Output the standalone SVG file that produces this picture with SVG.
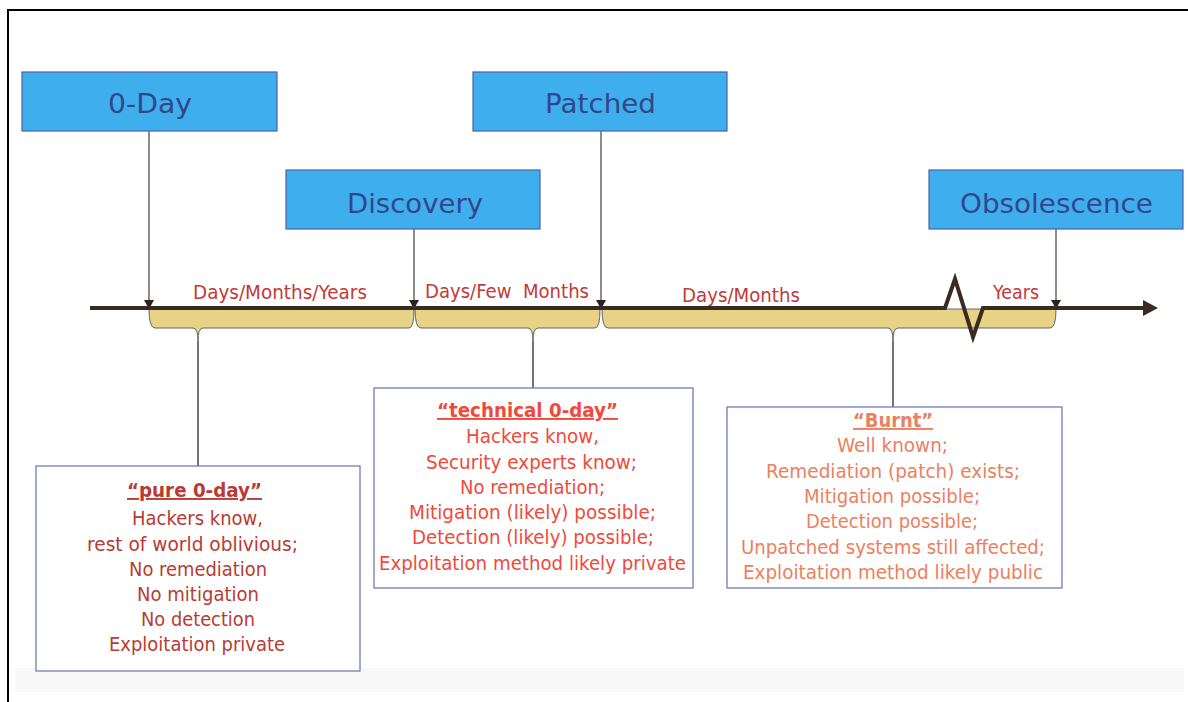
<svg xmlns="http://www.w3.org/2000/svg" width="1188" height="702" viewBox="0 0 1188 702">
<defs>
<style>
.stage rect{fill:#3FAEEC;stroke:#4A63A8;stroke-width:1.2}
.stage text{font-family:"DejaVu Sans","Liberation Sans",sans-serif;font-size:27px;fill:#33468C}
.tl{font-family:"DejaVu Sans","Liberation Sans",sans-serif;font-size:19px;fill:#C23A38}
.note rect{fill:#fff;stroke:#6F7DB8;stroke-width:1.3}
.note text{font-family:"DejaVu Sans","Liberation Sans",sans-serif;font-size:19px}
.ttl{font-weight:bold;text-decoration:underline}
.n1 text{fill:#B83B34}
.n2 text{fill:#EE4A3C}
.n3 text{fill:#EC8060}
.drop{stroke:#6E6660;stroke-width:1.5;fill:none}
.head{fill:#2A2320}
.brace{fill:#E8D384;stroke:#5D6478;stroke-width:1}
.lead{stroke:#4A4440;stroke-width:1.5}
</style>
</defs>
<rect width="1188" height="702" fill="#fff"/>
<path d="M8,702 V10 H1188" fill="none" stroke="#000" stroke-width="2"/>
<rect x="15" y="668" width="1169" height="24" fill="#F8F8F8"/>

<g id="brace-1"><path class="brace" d="M149,309 Q149,328 155,328 L193,328 Q198,328 198,341 Q198,328 203,328 L409,328 Q414,328 414,309 Z"/></g>
<g id="brace-2"><path class="brace" d="M415,309 Q415,328 421,328 L528,328 Q533,328 533,341 Q533,328 538,328 L595,328 Q600,328 600,309 Z"/></g>
<g id="brace-3"><path class="brace" d="M602,309 Q602,328 608,328 L888,328 Q893,328 893,341 Q893,328 898,328 L1050,328 Q1056,328 1056,309 Z"/></g>

<g id="connectors">
<path class="drop" d="M149,131 V302 M414,229 V302 M601,131 V302 M1056,229 V302"/>
<polygon class="head" points="144,300 154,300 149,309"/>
<polygon class="head" points="409,300 419,300 414,309"/>
<polygon class="head" points="596,300 606,300 601,309"/>
<polygon class="head" points="1051,300 1061,300 1056,309"/>
<path class="lead" d="M198,341 V466 M533,341 V388 M893,341 V408"/>
</g>

<g id="timeline">
<path d="M90,308 H945 L955,279 L973,337 L983,308 H1146" fill="none" stroke="#3A2B22" stroke-width="4" stroke-linejoin="miter"/>
<polygon points="1143,300 1158,308 1143,316" fill="#3A2B22"/>
<text class="tl" x="193" y="299" textLength="174" lengthAdjust="spacingAndGlyphs">Days/Months/Years</text>
<text class="tl" x="425" y="298" textLength="164" lengthAdjust="spacingAndGlyphs" xml:space="preserve">Days/Few  Months</text>
<text class="tl" x="682" y="302" textLength="118" lengthAdjust="spacingAndGlyphs">Days/Months</text>
<text class="tl" x="993" y="299" textLength="46" lengthAdjust="spacingAndGlyphs">Years</text>
</g>

<g id="zero-day" class="stage"><rect x="22" y="72" width="255" height="59"/><text x="108" y="113" textLength="84" lengthAdjust="spacingAndGlyphs">0-Day</text></g>
<g id="patched" class="stage"><rect x="473" y="72" width="254" height="59"/><text x="545" y="113" textLength="111" lengthAdjust="spacingAndGlyphs">Patched</text></g>
<g id="discovery" class="stage"><rect x="286" y="170" width="254" height="59"/><text x="347" y="213" textLength="136" lengthAdjust="spacingAndGlyphs">Discovery</text></g>
<g id="obsolescence" class="stage"><rect x="929" y="170" width="254" height="59"/><text x="960" y="213" textLength="193" lengthAdjust="spacingAndGlyphs">Obsolescence</text></g>

<g id="pure-0day" class="note n1">
<rect x="36" y="466" width="324" height="205"/>
<text class="ttl" x="127" y="497" textLength="135" lengthAdjust="spacingAndGlyphs">“pure 0-day”</text>
<text x="132" y="525" textLength="131" lengthAdjust="spacingAndGlyphs">Hackers know,</text>
<text x="87" y="551" textLength="211" lengthAdjust="spacingAndGlyphs">rest of world oblivious;</text>
<text x="129" y="576" textLength="138" lengthAdjust="spacingAndGlyphs">No remediation</text>
<text x="137" y="601" textLength="122" lengthAdjust="spacingAndGlyphs">No mitigation</text>
<text x="141" y="626" textLength="114" lengthAdjust="spacingAndGlyphs">No detection</text>
<text x="109" y="651" textLength="176" lengthAdjust="spacingAndGlyphs">Exploitation private</text>
</g>

<g id="technical-0day" class="note n2">
<rect x="374" y="388" width="319" height="200"/>
<text class="ttl" x="437" y="417" textLength="181" lengthAdjust="spacingAndGlyphs">“technical 0-day”</text>
<text x="466" y="443" textLength="133" lengthAdjust="spacingAndGlyphs">Hackers know,</text>
<text x="426" y="469" textLength="211" lengthAdjust="spacingAndGlyphs">Security experts know;</text>
<text x="460" y="494" textLength="145" lengthAdjust="spacingAndGlyphs">No remediation;</text>
<text x="409" y="519" textLength="247" lengthAdjust="spacingAndGlyphs">Mitigation (likely) possible;</text>
<text x="412" y="544" textLength="242" lengthAdjust="spacingAndGlyphs">Detection (likely) possible;</text>
<text x="379" y="570" textLength="307" lengthAdjust="spacingAndGlyphs">Exploitation method likely private</text>
</g>

<g id="burnt" class="note n3">
<rect x="727" y="407" width="335" height="181"/>
<text class="ttl" x="853" y="427" textLength="80" lengthAdjust="spacingAndGlyphs">“Burnt”</text>
<text x="837" y="452" textLength="111" lengthAdjust="spacingAndGlyphs">Well known;</text>
<text x="766" y="478" textLength="254" lengthAdjust="spacingAndGlyphs">Remediation (patch) exists;</text>
<text x="804" y="503" textLength="176" lengthAdjust="spacingAndGlyphs">Mitigation possible;</text>
<text x="806" y="528" textLength="172" lengthAdjust="spacingAndGlyphs">Detection possible;</text>
<text x="741" y="554" textLength="304" lengthAdjust="spacingAndGlyphs">Unpatched systems still affected;</text>
<text x="743" y="579" textLength="300" lengthAdjust="spacingAndGlyphs">Exploitation method likely public</text>
</g>
</svg>
